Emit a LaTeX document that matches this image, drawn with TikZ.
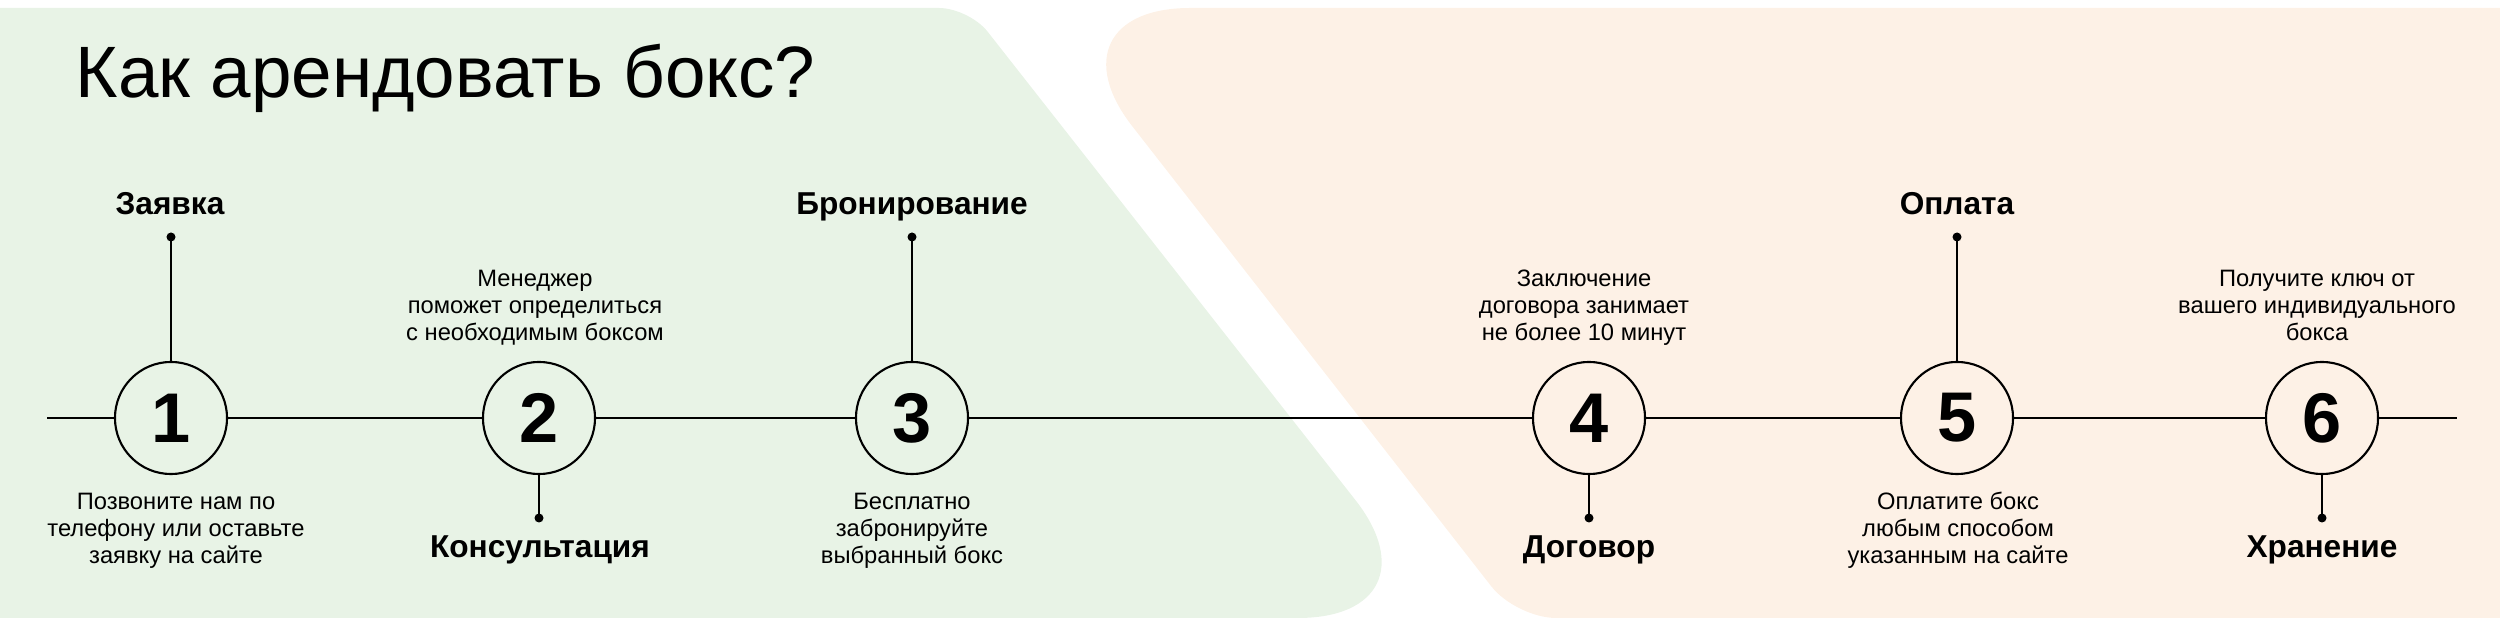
\documentclass[tikz,border=0pt]{standalone}
\usepackage{fontspec}
\setmainfont{Liberation Sans}
\definecolor{bggreen}{HTML}{E8F3E6}
\definecolor{bgorange}{HTML}{FDF1E6}
\tikzset{
  stepcirc/.style={circle, draw=black, line width=0.6pt, minimum size=1.12cm, inner sep=0pt,
    font=\fontsize{20}{24}\selectfont\bfseries},
  pin/.style={circle, fill=black, inner sep=0pt, minimum size=0.09cm},
  lbl/.style={inner sep=0pt, anchor=base, font=\fontsize{9}{10}\selectfont\bfseries},
  desc/.style={inner sep=0pt, anchor=base, align=center, font=\fontsize{6.75}{7.7}\selectfont},
  tline/.style={line width=0.65pt, black},
  pinline/.style={line width=0.55pt, black}
}
\begin{document}
\begin{tikzpicture}[x=0.01cm, y=-0.01cm]
\useasboundingbox (0,0) rectangle (2500,625);
% backgrounds
\fill[bggreen] (0,8) [rounded corners=0.3cm] -- (969,8) [rounded corners=1.5cm] -- (1448,618) [sharp corners] -- (0,618) -- cycle;
\fill[bgorange] (2500,8) [rounded corners=1.5cm] -- (1040,8) [rounded corners=0.4cm] -- (1516,618) [sharp corners] -- (2500,618) -- cycle;
% title
\node[inner sep=0pt, anchor=base west, font=\fontsize{20.7}{25}\selectfont] (title) at (75,98) {Как арендовать бокс?};
% circles
\node[stepcirc] (c1) at (171,418) {1};
\node[stepcirc] (c2) at (539,418) {2};
\node[stepcirc] (c3) at (912,418) {3};
\node[stepcirc] (c4) at (1589,418) {4};
\node[stepcirc] (c5) at (1957,418) {5};
\node[stepcirc] (c6) at (2322,418) {6};
\coordinate (ls) at (47,418);
\coordinate (le) at (2457,418);
\draw[tline] (ls) -- (c1) (c1) -- (c2) (c2) -- (c3) (c3) -- (c4) (c4) -- (c5) (c5) -- (c6) (c6) -- (le);
% pins
\node[pin] (p1) at (171,237) {};
\node[pin] (p2) at (539,518) {};
\node[pin] (p3) at (912,237) {};
\node[pin] (p4) at (1589,518) {};
\node[pin] (p5) at (1957,237) {};
\node[pin] (p6) at (2322,518) {};
\draw[pinline] (c1) -- (p1.center) (c2) -- (p2.center) (c3) -- (p3.center)
  (c4) -- (p4.center) (c5) -- (p5.center) (c6) -- (p6.center);
% labels
\node[lbl] (t1) at (170,215) {Заявка};
\node[lbl] (t2) at (540,558) {Консультация};
\node[lbl] (t3) at (912,215) {Бронирование};
\node[lbl] (t4) at (1589,558) {Договор};
\node[lbl] (t5) at (1957,215) {Оплата};
\node[lbl] (t6) at (2322,558) {Хранение};
% descriptions
\node[desc] (e1) at (176,564) {Позвоните нам по\\телефону или оставьте\\заявку на сайте};
\node[desc] (e2) at (535,341) {Менеджер\\поможет определиться\\с необходимым боксом};
\node[desc] (e3) at (912,564) {Бесплатно\\забронируйте\\выбранный бокс};
\node[desc] (e4) at (1584,341) {Заключение\\договора занимает\\не более 10 минут};
\node[desc] (e5) at (1958,564) {Оплатите бокс\\любым способом\\указанным на сайте};
\node[desc] (e6) at (2317,341) {Получите ключ от\\вашего индивидуального\\бокса};
\end{tikzpicture}
\end{document}
